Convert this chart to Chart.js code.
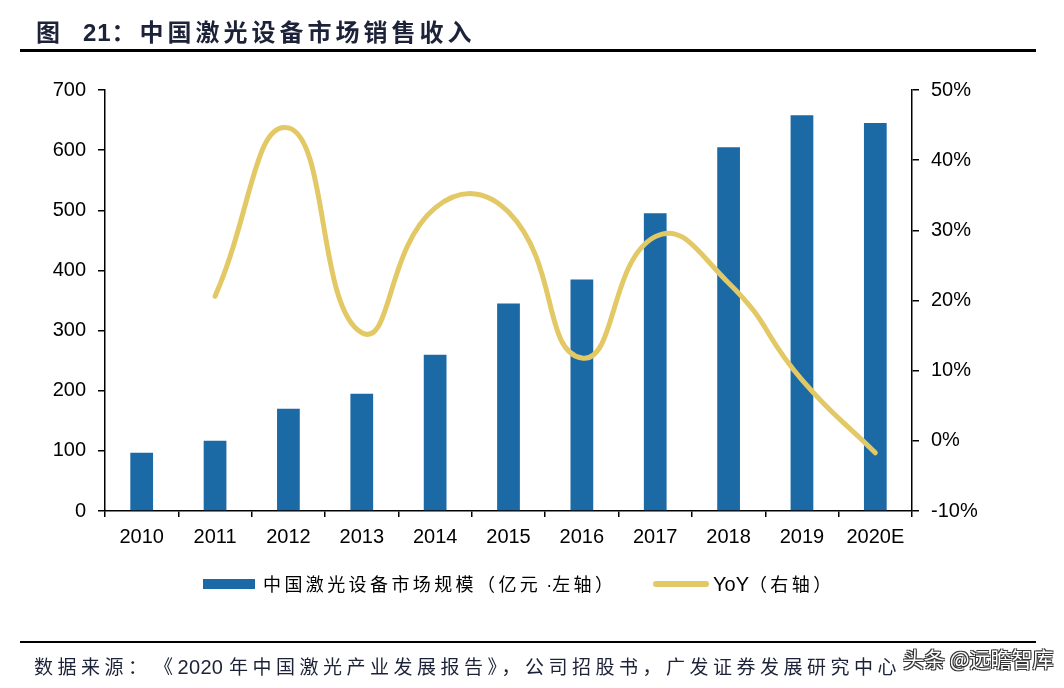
<!DOCTYPE html>
<html>
<head>
<meta charset="utf-8">
<script src="https://cdn.jsdelivr.net/npm/chart.js@4.4.1/dist/chart.umd.min.js"></script>
<style>
  html, body { margin: 0; padding: 0; background: #fff; }
  #wrap { position: relative; width: 1064px; height: 688px; overflow: hidden; background: #fff; }
  #c { position: absolute; left: 0; top: 0; }
  .abs { position: absolute; white-space: nowrap; }
  #title { left: 36px; top: 13px; font: bold 24px "Noto Sans CJK SC", "Liberation Sans", sans-serif; color: #1c2238; letter-spacing: 4px; }
  #tline { left: 20px; top: 49px; width: 1016px; height: 3px; background: #000; }
  #fline { left: 20px; top: 641px; width: 1016px; height: 2px; background: #000; }
  #foot { left: 34px; top: 652px; font: 19px "Noto Sans CJK SC", sans-serif; color: #1c2238; letter-spacing: 4.5px; }
  #wm { left: 903px; top: 643px; font: 21px "Noto Sans CJK SC", sans-serif; color: #fff;
        text-shadow: -1px -1px 0 #333, 1px -1px 0 #333, -1px 1px 0 #333, 1px 1px 0 #333; }
  .leg { font: 18px "Noto Sans CJK SC", sans-serif; color: #000; letter-spacing: 3.4px; }
</style>
</head>
<body>
<div id="wrap">
  <canvas id="c" width="1064" height="688"></canvas>
  <div id="title" class="abs">图&nbsp;&nbsp;<span style="font-family:'Liberation Sans',sans-serif;letter-spacing:1px;">21</span>：中国激光设备市场销售收入</div>
  <div id="tline" class="abs"></div>
  <div class="abs" style="left:203px;top:579px;width:52px;height:10px;background:#1B6AA5;"></div>
  <div class="abs leg" style="left:263px;top:570px;">中国激光设备市场规模（亿元<span style="font-family:'Liberation Sans',sans-serif;letter-spacing:0;"> ·</span>左轴）</div>
  <div class="abs" style="left:653px;top:581px;width:56px;height:6px;border-radius:3px;background:#E3C866;"></div>
  <div class="abs leg" style="left:713px;top:570px;"><span style="font:20px 'Liberation Sans',sans-serif;letter-spacing:0;">YoY</span>（右轴）</div>
  <div id="fline" class="abs"></div>
  <div id="foot" class="abs">数据来源：<span style="margin-left:12px;">《<span style="font-family:'Liberation Sans',sans-serif;font-size:20px;letter-spacing:0.3px;">2020 </span>年中国激光产业发展报告》，公司招股书，广发证券发展研究中心</span></div>
  <div id="wm" class="abs">头条 @远瞻智库</div>
</div>
<script>
const categories = ['2010', '2011', '2012', '2013', '2014', '2015', '2016', '2017', '2018', '2019', '2020E'];
const revenue = [97, 117, 170, 195, 260, 345, 385, 495, 605, 658, 645];
const yoy = [null, 20.6, 44.6, 15.4, 33.2, 32.6, 11.8, 29.1, 22.5, 8.7, -1.7];
const leftTicks = [0, 100, 200, 300, 400, 500, 600, 700];
const rightTicks = [-10, 0, 10, 20, 30, 40, 50];

const tickFont = { family: '"Liberation Sans", Arial, sans-serif', size: 20 };

new Chart(document.getElementById('c'), {
  data: {
    labels: categories,
    datasets: [
      {
        type: 'line',
        label: 'YoY（右轴）',
        data: yoy,
        yAxisID: 'y1',
        borderColor: '#E3C866',
        backgroundColor: '#E3C866',
        borderWidth: 5,
        borderCapStyle: 'round',
        borderJoinStyle: 'round',
        pointRadius: 0,
        tension: 0.5,
        fill: false,
        order: 0
      },
      {
        type: 'bar',
        label: '中国激光设备市场规模（亿元 ·左轴）',
        data: revenue,
        yAxisID: 'y',
        backgroundColor: '#1B6AA5',
        barPercentage: 0.31,
        categoryPercentage: 1.0,
        order: 1
      }
    ]
  },
  options: {
    responsive: false,
    animation: false,
    layout: { padding: { left: 0, right: 0, top: 90, bottom: 0 } },
    plugins: { legend: { display: false }, tooltip: { enabled: false } },
    scales: {
      x: {
        offset: true,
        grid: { display: true, offset: true, drawOnChartArea: false, color: '#000', tickLength: 6, lineWidth: 1.5 },
        border: { display: true, color: '#000', width: 1.5 },
        ticks: { color: '#000', font: tickFont, padding: 8, maxRotation: 0 },
        afterFit: s => { s.height = 177; }
      },
      y: {
        position: 'left',
        min: 0, max: 700,
        afterBuildTicks: s => { s.ticks = leftTicks.map(v => ({ value: v })); },
        grid: { display: true, drawOnChartArea: false, color: '#000', tickLength: 7, lineWidth: 1.5 },
        border: { display: true, color: '#000', width: 1.5 },
        ticks: { color: '#000', font: tickFont, padding: 12 },
        afterFit: s => { s.width = 105; }
      },
      y1: {
        position: 'right',
        min: -10, max: 50,
        afterBuildTicks: s => { s.ticks = rightTicks.map(v => ({ value: v })); },
        grid: { display: true, drawOnChartArea: false, color: '#000', tickLength: 7, lineWidth: 1.5 },
        border: { display: true, color: '#000', width: 1.5 },
        ticks: { color: '#000', font: tickFont, padding: 12, callback: v => v + '%' },
        afterFit: s => { s.width = 152; }
      }
    }
  }
});
</script>
</body>
</html>
